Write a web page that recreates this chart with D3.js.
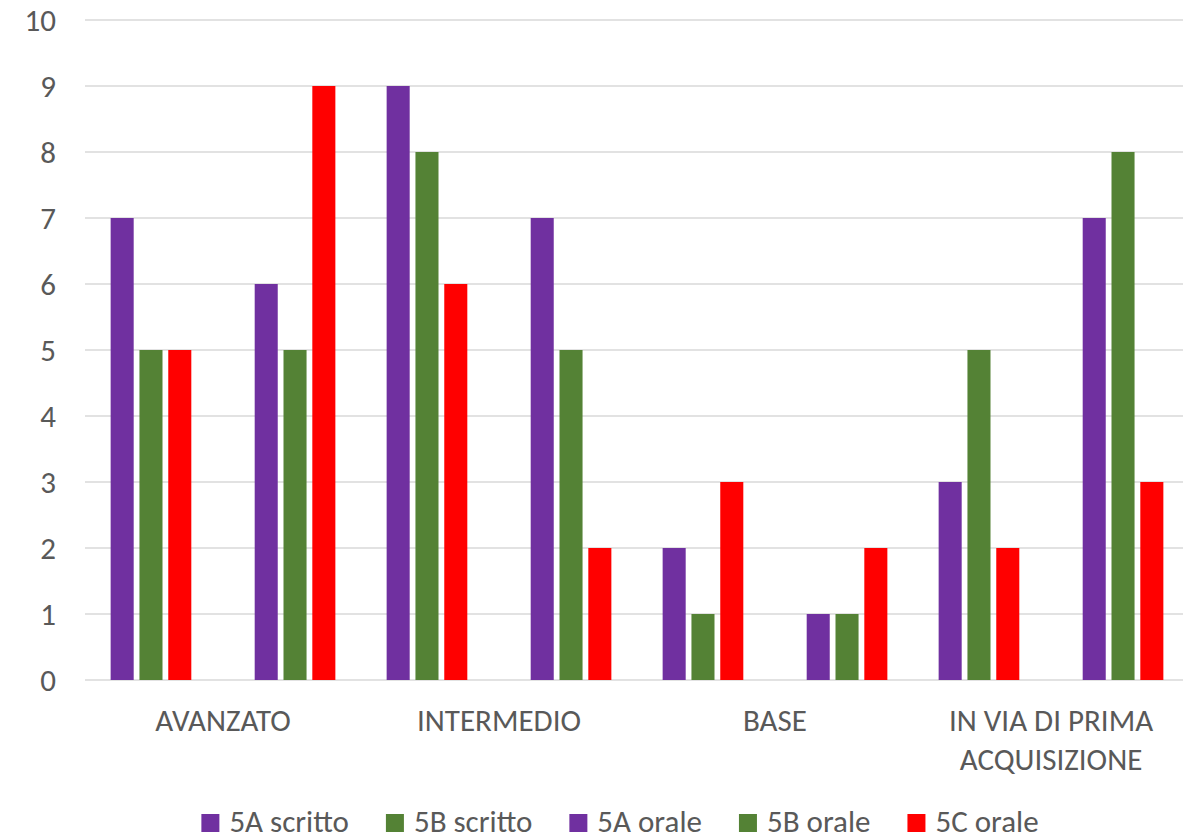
<!DOCTYPE html>
<html>
<head>
<meta charset="utf-8">
<script src="https://cdn.jsdelivr.net/npm/d3@7"></script>
<style>
  html, body { margin: 0; padding: 0; background: #fff; }
  svg text { font-family: Carlito, Calibri, Lato, "Liberation Sans", sans-serif; fill: #595959; }
</style>
</head>
<body>
<svg id="chart" width="1183" height="839"></svg>
<script>
// ---- data ----
const categories = ["AVANZATO", "INTERMEDIO", "BASE", "IN VIA DI PRIMA|ACQUISIZIONE"];
const seriesNames = ["5A scritto", "5B scritto", "5C scritto", "s4", "s5", "5A orale", "5B orale", "5C orale"];
const seriesColors = ["#7030A0", "#548235", "#FF0000", "#FFFFFF", "#FFFFFF", "#7030A0", "#548235", "#FF0000"];
const s5Ascritto = [7, 9, 2, 3];
const s5Bscritto = [5, 8, 1, 5];
const s5Cscritto = [5, 6, 3, 2];
const sEmpty1 = [null, null, null, null];
const sEmpty2 = [null, null, null, null];
const s5Aorale = [6, 7, 1, 7];
const s5Borale = [5, 5, 1, 8];
const s5Corale = [9, 2, 2, 3];
const legendNames = ["5A scritto", "5B scritto", "5A orale", "5B orale", "5C orale"];
const legendColors = ["#7030A0", "#548235", "#7030A0", "#548235", "#FF0000"];
const yTicks = [0, 1, 2, 3, 4, 5, 6, 7, 8, 9, 10];

const seriesValues = [s5Ascritto, s5Bscritto, s5Cscritto, sEmpty1, sEmpty2, s5Aorale, s5Borale, s5Corale];

// ---- layout ----
const svg = d3.select("#chart");
const plotLeft = 85, plotRight = 1189, plotTop = 20, plotBottom = 680;
const FONT = "Carlito, Calibri, Lato, 'Liberation Sans', sans-serif";
const FS = "31px";

const y = d3.scaleLinear().domain([0, 10]).range([plotBottom, plotTop]);
const x0 = d3.scaleBand().domain(categories).range([plotLeft, plotRight]).padding(0);
const x1 = d3.scaleBand().domain(seriesNames).range([0, x0.bandwidth()])
  .paddingInner(0.2).paddingOuter(0.89);

// gridlines
svg.append("g").selectAll("line").data(yTicks).join("line")
  .attr("x1", plotLeft).attr("x2", plotRight)
  .attr("y1", d => y(d)).attr("y2", d => y(d))
  .attr("stroke", "#d9d9d9").attr("stroke-width", 1.3);

// y axis labels
const yAxis = d3.axisLeft(y).tickValues(yTicks).tickSize(0).tickPadding(0);
const gy = svg.append("g").attr("transform", `translate(56,0)`).call(yAxis);
gy.select(".domain").remove();
gy.selectAll("text").style("font-size", FS).style("font-family", FONT)
  .attr("fill", "#595959").attr("dy", "0.35em");

// bars
const table = [];
categories.forEach((c, i) => {
  seriesNames.forEach((s, j) => {
    const v = seriesValues[j][i];
    if (v !== null) table.push({cat: c, series: s, value: v, color: seriesColors[j]});
  });
});
svg.append("g").selectAll("rect").data(table).join("rect")
  .attr("x", d => x0(d.cat) + x1(d.series))
  .attr("width", x1.bandwidth())
  .attr("y", d => y(d.value))
  .attr("height", d => y(0) - y(d.value))
  .attr("fill", d => d.color);

// x axis labels
const xAxis = d3.axisBottom(x0).tickSize(0).tickPadding(0);
const gx = svg.append("g").attr("transform", `translate(0,${plotBottom})`).call(xAxis);
gx.select(".domain").remove();
gx.selectAll("text").each(function(d) {
  const t = d3.select(this);
  t.text(null).attr("dy", null).attr("y", 0)
    .style("font-size", FS).style("font-family", FONT)
    .attr("fill", "#595959").attr("text-anchor", "middle");
  d.split("|").forEach((line, k) => {
    t.append("tspan").attr("x", 0).attr("y", 51 + k * 38.5).text(line);
  });
});

// legend
const lg = svg.append("g");
const items = lg.selectAll("g").data(legendNames).join("g");
items.append("rect").attr("width", 18).attr("height", 18).attr("y", 814)
  .attr("fill", (d, i) => legendColors[i]);
items.append("text").attr("x", 28).attr("y", 832).style("font-size", FS).text(d => d);
let xpos = 0;
const positions = [];
items.each(function() {
  const w = 28 + d3.select(this).select("text").node().getComputedTextLength();
  positions.push(xpos);
  xpos += w + 37;
});
const total = xpos - 37;
const start = 620 - total / 2;
items.attr("transform", (d, i) => `translate(${start + positions[i]},0)`);
</script>
</body>
</html>
